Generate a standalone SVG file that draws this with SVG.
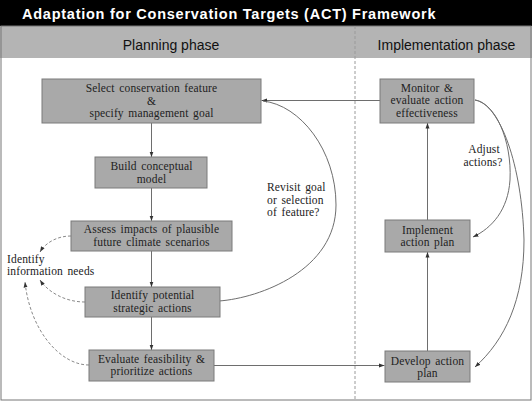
<svg xmlns="http://www.w3.org/2000/svg" width="532" height="401" viewBox="0 0 532 401">
<defs>
<style>
.box{fill:#a9a9a9;stroke:#7a7a7a;stroke-width:1}
.t{font-family:"Liberation Serif","Times New Roman",serif;font-size:11.5px;letter-spacing:0.15px;word-spacing:1.5px;fill:#222;text-anchor:middle}
.lbl{font-family:"Liberation Serif","Times New Roman",serif;font-size:11.5px;letter-spacing:0.15px;word-spacing:1.5px;fill:#222}
.hdr{font-family:"Liberation Sans",Arial,sans-serif;font-size:14px;fill:#111;text-anchor:middle}
.ln{fill:none;stroke:#6e6e6e;stroke-width:1}
.dl{fill:none;stroke:#8a8a8a;stroke-width:1;stroke-dasharray:3 2}
</style>
<marker id="ah" markerUnits="userSpaceOnUse" markerWidth="6" markerHeight="5" refX="5.5" refY="2.5" orient="auto">
<path d="M0,0.5 L5.5,2.5 L0,4.5 Z" fill="#333"/>
</marker>
</defs>
<rect x="0" y="0" width="532" height="401" fill="#fff"/>
<g id="frame">
<rect x="0" y="0" width="532" height="26" fill="#000"/>
<rect x="0" y="26" width="532" height="32" fill="#b4b4b4"/>
<rect x="1" y="26" width="530" height="374" fill="none" stroke="#777" stroke-width="1"/>
<line x1="355" y1="26" x2="355" y2="401" stroke="#9a9a9a" stroke-width="1" stroke-dasharray="3 2"/>
<text x="22" y="19" font-family="Liberation Sans,Arial,sans-serif" font-size="14.5" font-weight="bold" letter-spacing="0.75" fill="#fff">Adaptation for Conservation Targets (ACT) Framework</text>
<text class="hdr" x="171" y="50">Planning phase</text>
<text class="hdr" x="446.5" y="50">Implementation phase</text>
</g>
<g id="connectors">
<line class="ln" x1="151.5" y1="123" x2="151.5" y2="157" marker-end="url(#ah)"/>
<line class="ln" x1="151.5" y1="188" x2="151.5" y2="221" marker-end="url(#ah)"/>
<line class="ln" x1="151.5" y1="251" x2="151.5" y2="287" marker-end="url(#ah)"/>
<line class="ln" x1="151.5" y1="317" x2="151.5" y2="350" marker-end="url(#ah)"/>
<line class="ln" x1="214" y1="365.5" x2="384.5" y2="365.5" marker-end="url(#ah)"/>
<line class="ln" x1="427.5" y1="351" x2="427.5" y2="252" marker-end="url(#ah)"/>
<line class="ln" x1="427.5" y1="220" x2="427.5" y2="123" marker-end="url(#ah)"/>
<line class="ln" x1="380" y1="100.5" x2="261.5" y2="100.5" marker-end="url(#ah)"/>
<path class="ln" d="M219,301 C260,298 336,270 336,205 C336,150 300,105 263,101"/>
<path class="ln" d="M475,100 C495,103 512,140 510,180 C508,210 492,228 473,237" marker-end="url(#ah)"/>
<path class="ln" d="M475,100 C500,104 522,165 524,240 C524,300 505,340 475,367" marker-end="url(#ah)"/>
<path class="dl" d="M71,236 C58,236 46,242 40,252" marker-end="url(#ah)"/>
<path class="dl" d="M85,302 C65,302 48,292 40,280" marker-end="url(#ah)"/>
<path class="dl" d="M89,365 C60,365 30,330 25,282" marker-end="url(#ah)"/>
<text class="lbl" x="7" y="262.5">Identify</text>
<text class="lbl" x="7" y="275">information needs</text>
<text class="lbl" x="267" y="191">Revisit goal</text>
<text class="lbl" x="267" y="203.5">or selection</text>
<text class="lbl" x="267" y="216">of feature?</text>
<text class="lbl" x="484" y="153" text-anchor="middle">Adjust</text>
<text class="lbl" x="483" y="165.5" text-anchor="middle">actions?</text>
</g>
<g id="n1"><rect class="box" x="42" y="79" width="219" height="44"/>
<text class="t" x="151.5" y="92">Select conservation feature</text>
<text class="t" x="151.5" y="104.5">&amp;</text>
<text class="t" x="151.5" y="117">specify management goal</text></g>
<g id="n2"><rect class="box" x="95" y="157" width="112" height="31"/>
<text class="t" x="151.5" y="170">Build conceptual</text>
<text class="t" x="151.5" y="182.5">model</text></g>
<g id="n3"><rect class="box" x="71" y="221" width="161" height="30"/>
<text class="t" x="151.5" y="233">Assess impacts of plausible</text>
<text class="t" x="151.5" y="245.5">future climate scenarios</text></g>
<g id="n4"><rect class="box" x="85" y="287" width="135" height="30"/>
<text class="t" x="152.5" y="299">Identify potential</text>
<text class="t" x="152.5" y="311.5">strategic actions</text></g>
<g id="n5"><rect class="box" x="89" y="350" width="125" height="31"/>
<text class="t" x="151.5" y="362.5">Evaluate feasibility &amp;</text>
<text class="t" x="151.5" y="375">prioritize actions</text></g>
<g id="n6"><rect class="box" x="380" y="79" width="94" height="44"/>
<text class="t" x="427" y="91.5">Monitor &amp;</text>
<text class="t" x="427" y="104">evaluate action</text>
<text class="t" x="427" y="116.5">effectiveness</text></g>
<g id="n7"><rect class="box" x="385" y="220" width="85" height="32"/>
<text class="t" x="427.5" y="233.5">Implement</text>
<text class="t" x="427.5" y="246">action plan</text></g>
<g id="n8"><rect class="box" x="385" y="351" width="85" height="31"/>
<text class="t" x="427.5" y="364.5">Develop action</text>
<text class="t" x="427.5" y="377">plan</text></g>
</svg>
